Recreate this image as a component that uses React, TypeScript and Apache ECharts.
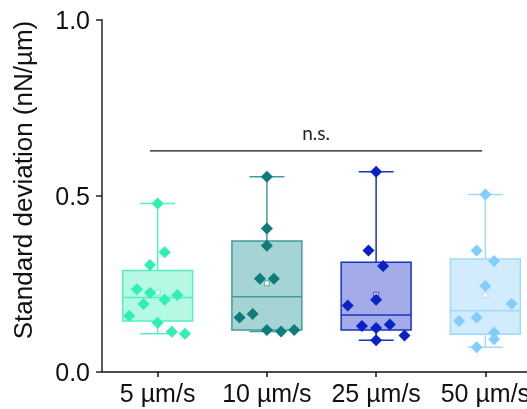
import React, { useEffect, useRef } from 'react';
import * as echarts from 'echarts';

// ---- data ----
const categories = ['5 µm/s', '10 µm/s', '25 µm/s', '50 µm/s'];
const yTicks = [0, 0.5, 1.0];

const whiskerLow = [0.109, 0.115, 0.090, 0.070];
const quartile1 = [0.145, 0.119, 0.119, 0.107];
const medians = [0.212, 0.214, 0.162, 0.174];
const quartile3 = [0.288, 0.372, 0.312, 0.321];
const whiskerHigh = [0.479, 0.555, 0.569, 0.504];
const means = [0.226, 0.252, 0.219, 0.218];

const values5 = [0.479, 0.340, 0.304, 0.235, 0.225, 0.219, 0.205, 0.193, 0.160, 0.140, 0.114, 0.109];
const jitter5 = [0, 0.064, -0.07, -0.19, -0.07, 0.18, 0.064, -0.13, -0.26, 0, 0.13, 0.25];
const values10 = [0.555, 0.408, 0.359, 0.265, 0.265, 0.155, 0.165, 0.119, 0.115, 0.119];
const jitter10 = [0, 0, 0, -0.064, 0.064, -0.25, -0.13, 0, 0.13, 0.25];
const values25 = [0.569, 0.345, 0.301, 0.205, 0.189, 0.131, 0.125, 0.135, 0.104, 0.090];
const jitter25 = [0, -0.07, 0.064, 0, -0.26, -0.13, 0, 0.125, 0.26, 0];
const values50 = [0.504, 0.345, 0.315, 0.244, 0.194, 0.145, 0.155, 0.112, 0.093, 0.070];
const jitter50 = [0, -0.08, 0.08, 0, 0.24, -0.24, -0.08, 0.08, 0.08, -0.08];

const bracketFrom = -0.07;
const bracketTo = 2.97;
const bracketLevel = 0.628;
const bracketLabel = 'n.s.';

// ---- styles ----
const pointColors = ['#30efb2', '#0f7b7b', '#0a22c4', '#80cffb'];
const fillColors = ['#b5f9e4', '#a6d4d4', '#a3aae8', '#d3ecfd'];
const lineColors = ['#55f0c2', '#3f9c9c', '#1b32c2', '#a0d9ff'];
const FONT = '"Liberation Sans", Arial, sans-serif';

export default function App() {
  const ref = useRef<HTMLDivElement>(null);
  useEffect(() => {
    if (!ref.current) return;
    const chart = echarts.init(ref.current, undefined, { renderer: 'svg' });

    const groups = [
      { v: values5, j: jitter5 },
      { v: values10, j: jitter10 },
      { v: values25, j: jitter25 },
      { v: values50, j: jitter50 },
    ];

    const boxData = categories.map((_, i) => [
      i, whiskerLow[i], quartile1[i], medians[i], quartile3[i], whiskerHigh[i],
    ]);

    const pointSeries = groups.map((g, gi) => ({
      type: 'scatter',
      xAxisIndex: 1,
      yAxisIndex: 0,
      symbol: 'diamond',
      symbolSize: 12,
      z: 5,
      itemStyle: { color: pointColors[gi], opacity: 1 },
      data: g.v.map((val, k) => [gi + g.j[k], val]),
      silent: true,
    }));

    const option: any = {
      animation: false,
      grid: { left: 103, top: 20, width: 437, height: 352, containLabel: false, outerBoundsMode: 'none' },
      xAxis: [
        {
          type: 'category',
          data: categories,
          axisLine: { show: true, onZero: false, lineStyle: { color: '#111', width: 1.5 } },
          axisTick: { show: true, alignWithLabel: true, length: 5, lineStyle: { color: '#111', width: 1.5 } },
          axisLabel: { color: '#111', fontSize: 25, fontFamily: FONT, margin: 8, interval: 0 },
          splitLine: { show: false },
        },
        {
          type: 'value',
          min: -0.5,
          max: 3.5,
          show: false,
          axisLine: { onZero: false },
          splitLine: { show: false },
        },
      ],
      yAxis: {
        type: 'value',
        min: yTicks[0],
        max: yTicks[yTicks.length - 1],
        interval: 0.5,
        offset: 1,
        axisLine: { show: true, onZero: false, lineStyle: { color: '#595959', width: 2 } },
        axisTick: { show: true, length: 6, lineStyle: { color: '#222', width: 1.5 } },
        axisLabel: {
          color: '#111', fontSize: 25, fontFamily: FONT, margin: 12,
          formatter: (v: number) => v.toFixed(1),
        },
        splitLine: { show: false },
      },
      graphic: [
        {
          type: 'text',
          x: 23,
          y: 180,
          rotation: Math.PI / 2,
          style: {
            text: 'Standard deviation (nN/µm)',
            fill: '#111',
            font: `26px ${FONT}`,
            textAlign: 'center',
            textVerticalAlign: 'middle',
          },
        },
      ],
      series: [
        {
          type: 'custom',
          xAxisIndex: 1,
          yAxisIndex: 0,
          z: 2,
          silent: true,
          encode: { x: 0, y: [1, 2, 3, 4, 5] },
          data: boxData,
          renderItem: (params: any, api: any) => {
            const i = api.value(0);
            const lo = api.coord([i, api.value(1)]);
            const b1 = api.coord([i, api.value(2)]);
            const md = api.coord([i, api.value(3)]);
            const b3 = api.coord([i, api.value(4)]);
            const hi = api.coord([i, api.value(5)]);
            const w = api.size([0.64, 0])[0];
            const cap = w / 2;
            const idx = params.dataIndex;
            const ls = { stroke: lineColors[idx], lineWidth: 1.5, fill: null };
            return {
              type: 'group',
              children: [
                { type: 'line', shape: { x1: lo[0], y1: lo[1], x2: hi[0], y2: hi[1] }, style: ls },
                { type: 'line', shape: { x1: lo[0] - cap / 2, y1: lo[1], x2: lo[0] + cap / 2, y2: lo[1] }, style: ls },
                { type: 'line', shape: { x1: hi[0] - cap / 2, y1: hi[1], x2: hi[0] + cap / 2, y2: hi[1] }, style: ls },
                {
                  type: 'rect',
                  shape: { x: b3[0] - w / 2, y: b3[1], width: w, height: b1[1] - b3[1] },
                  style: { fill: fillColors[idx], stroke: lineColors[idx], lineWidth: 1.5 },
                },
                { type: 'line', shape: { x1: md[0] - w / 2, y1: md[1], x2: md[0] + w / 2, y2: md[1] }, style: ls },
              ],
            };
          },
        },
        {
          type: 'custom',
          xAxisIndex: 1,
          yAxisIndex: 0,
          z: 2,
          silent: true,
          encode: { x: [0, 1], y: 2 },
          data: [[bracketFrom, bracketTo, bracketLevel]],
          renderItem: (params: any, api: any) => {
            const a = api.coord([api.value(0), api.value(2)]);
            const b = api.coord([api.value(1), api.value(2)]);
            return {
              type: 'group',
              children: [
                { type: 'line', shape: { x1: a[0], y1: a[1], x2: b[0], y2: b[1] }, style: { stroke: '#111', lineWidth: 1.2 } },
                {
                  type: 'text',
                  x: (a[0] + b[0]) / 2,
                  y: a[1] - 9,
                  style: {
                    text: bracketLabel,
                    fill: '#222',
                    font: '19px Lato, "Open Sans", sans-serif',
                    textAlign: 'center',
                    textVerticalAlign: 'bottom',
                  },
                },
              ],
            };
          },
        },
        {
          type: 'scatter',
          xAxisIndex: 1,
          yAxisIndex: 0,
          symbol: 'rect',
          symbolSize: 5,
          z: 3,
          silent: true,
          data: means.map((m, i) => ({
            value: [i, m],
            itemStyle: { color: '#ffffff', borderColor: lineColors[i], borderWidth: 1 },
          })),
        },
        ...pointSeries,
      ],
    };
    chart.setOption(option);
    return () => chart.dispose();
  }, []);
  return <div ref={ref} style={{ position: 'fixed', left: 0, top: 0, width: 527, height: 409 }} />;
}
